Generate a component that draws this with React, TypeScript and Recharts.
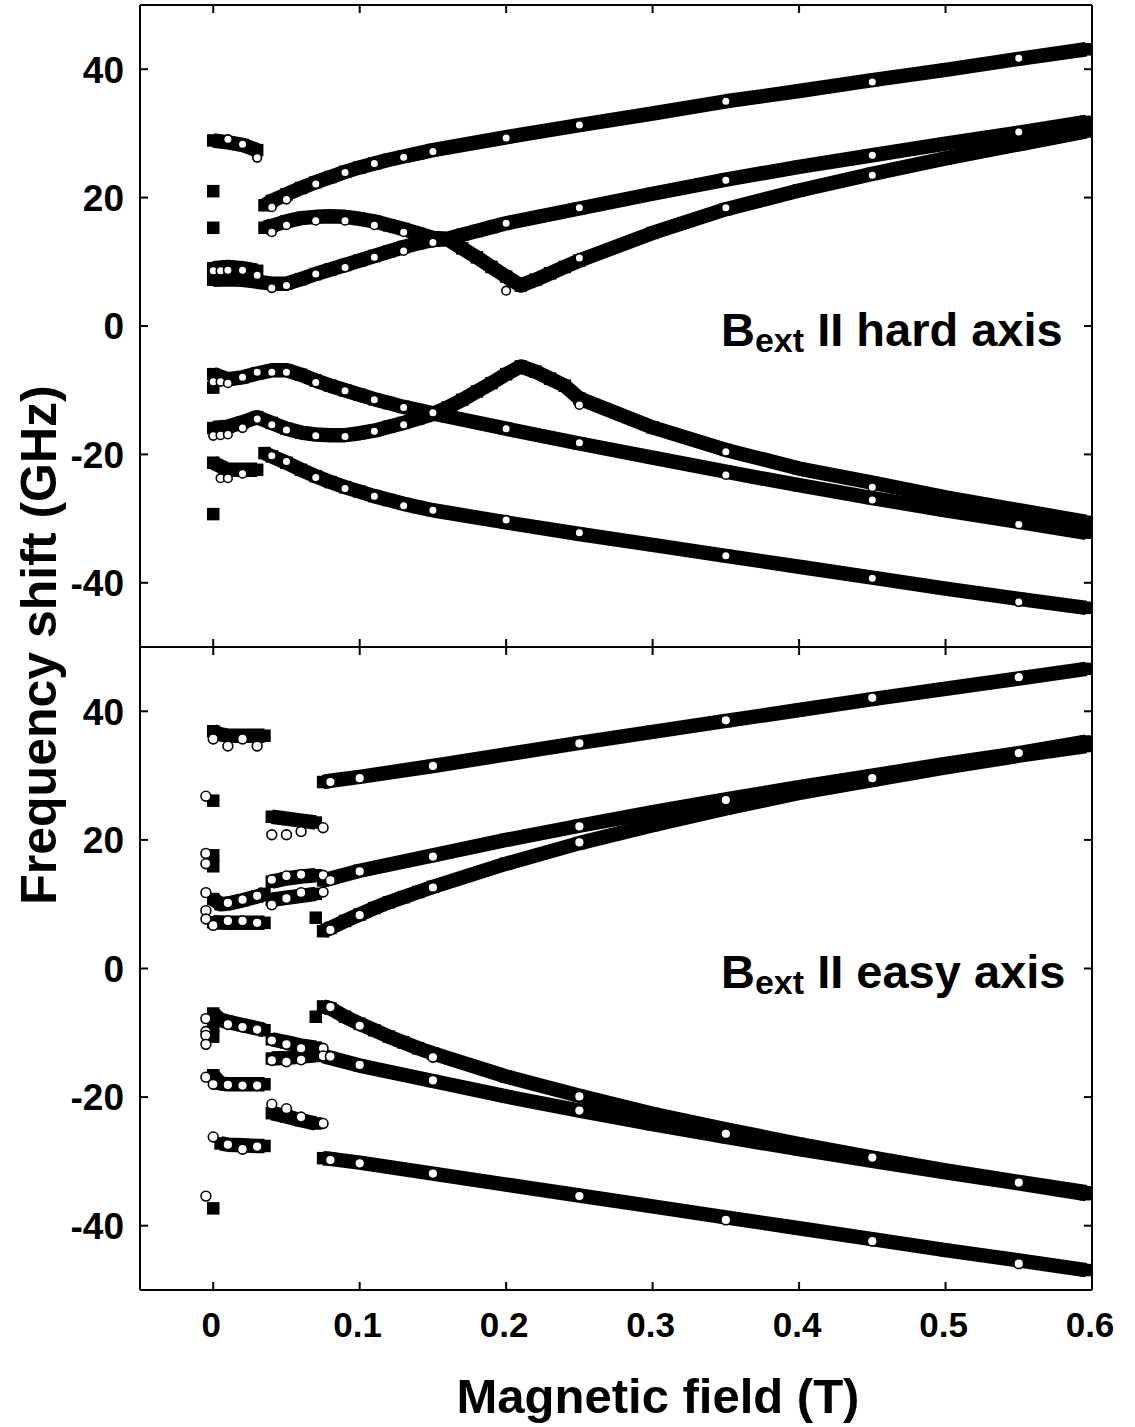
import React from 'react';
import { ComposedChart, Scatter, XAxis, YAxis } from 'recharts';

type Pt = [number, number];

// ---------- axes ----------
const fieldDomain: [number, number] = [-0.05, 0.6];
const fieldTicks = [0, 0.1, 0.2, 0.3, 0.4, 0.5, 0.6];
const fieldTickLabels = ['0', '0.1', '0.2', '0.3', '0.4', '0.5', '0.6'];
const shiftDomain: [number, number] = [-50, 50];
const shiftTicks = [-40, -20, 0, 20, 40];
const shiftTickLabels = ['-40', '-20', '0', '20', '40'];

// ---------- hard axis panel: calculated (filled squares) ----------
const hardCalcA: Pt[] = [[0, 28.9], [0.01, 28.6], [0.02, 28.2], [0.03, 27.4]];
const hardCalcUpper9: Pt[] = [[0, 9.0], [0.01, 9.2], [0.02, 9.0], [0.03, 8.6]];
const hardCalcP1: Pt[] = [[0.035, 18.8], [0.04, 19.5], [0.05, 20.5], [0.06, 21.5], [0.07, 22.4], [0.08, 23.2], [0.09, 24.0], [0.1, 24.7], [0.11, 25.3], [0.12, 25.9], [0.13, 26.4], [0.14, 26.9], [0.15, 27.4], [0.2, 29.4], [0.25, 31.3], [0.3, 33.1], [0.35, 35.0], [0.4, 36.6], [0.45, 38.3], [0.5, 39.9], [0.55, 41.6], [0.596, 43.1]];
const hardCalcP2: Pt[] = [[0.035, 15.3], [0.04, 15.6], [0.05, 16.3], [0.06, 16.8], [0.07, 17.0], [0.08, 17.1], [0.09, 17.0], [0.1, 16.7], [0.11, 16.3], [0.12, 15.7], [0.13, 15.1], [0.14, 14.4], [0.15, 13.7], [0.16, 13.6], [0.17, 14.2], [0.18, 14.8], [0.19, 15.4], [0.2, 16.0], [0.25, 18.3], [0.3, 20.6], [0.35, 22.8], [0.4, 24.8], [0.45, 26.6], [0.5, 28.4], [0.55, 30.1], [0.596, 31.8]];
const hardCalcP3: Pt[] = [[0, 7.2], [0.01, 7.3], [0.02, 7.2], [0.03, 6.9], [0.04, 6.6], [0.05, 6.6], [0.06, 7.3], [0.07, 8.1], [0.08, 8.8], [0.09, 9.5], [0.1, 10.2], [0.11, 10.9], [0.12, 11.6], [0.13, 12.3], [0.14, 12.9], [0.15, 13.4], [0.16, 13.5], [0.17, 12.1], [0.18, 10.7], [0.19, 9.2], [0.2, 7.7], [0.21, 6.3], [0.22, 7.2], [0.23, 8.2], [0.24, 9.2], [0.25, 10.2], [0.3, 14.5], [0.35, 18.2], [0.4, 21.1], [0.45, 23.7], [0.5, 26.1], [0.55, 28.3], [0.596, 30.3]];
const hardCalcN1: Pt[] = [[0, -7.5], [0.01, -8.3], [0.02, -8.0], [0.03, -7.4], [0.04, -6.9], [0.05, -6.9], [0.06, -7.6], [0.07, -8.5], [0.08, -9.3], [0.09, -10.0], [0.1, -10.7], [0.11, -11.4], [0.12, -12.0], [0.13, -12.6], [0.14, -13.1], [0.15, -13.6], [0.16, -14.1], [0.2, -16.0], [0.25, -18.3], [0.3, -20.5], [0.35, -22.7], [0.4, -24.8], [0.45, -26.8], [0.5, -28.7], [0.55, -30.5], [0.596, -32.2]];
const hardCalcN2: Pt[] = [[0, -15.9], [0.01, -15.7], [0.02, -15.0], [0.03, -14.2], [0.04, -15.1], [0.05, -16.0], [0.06, -16.6], [0.07, -16.9], [0.08, -17.0], [0.09, -17.0], [0.1, -16.7], [0.11, -16.3], [0.12, -15.7], [0.13, -15.1], [0.14, -14.4], [0.15, -13.7], [0.16, -12.7], [0.17, -11.5], [0.18, -10.2], [0.19, -8.9], [0.2, -7.5], [0.21, -6.3], [0.22, -7.1], [0.23, -8.2], [0.24, -9.3], [0.25, -11.3], [0.3, -15.8], [0.35, -19.3], [0.4, -22.2], [0.45, -24.4], [0.5, -26.7], [0.55, -28.7], [0.596, -30.5]];
const hardCalcN3: Pt[] = [[0, -21.3], [0.01, -22.4], [0.02, -22.4], [0.03, -22.4]];
const hardCalcN4: Pt[] = [[0.035, -19.8], [0.04, -20.3], [0.05, -21.3], [0.06, -22.4], [0.07, -23.4], [0.08, -24.3], [0.09, -25.1], [0.1, -25.8], [0.11, -26.5], [0.12, -27.1], [0.13, -27.7], [0.14, -28.2], [0.15, -28.7], [0.2, -30.6], [0.25, -32.4], [0.3, -34.1], [0.35, -35.8], [0.4, -37.5], [0.45, -39.2], [0.5, -40.9], [0.55, -42.5], [0.596, -43.9]];
const hardCalcSingles: Pt[] = [[0, 21.0], [0, 15.3], [0, -9.6], [0, -29.3]];

// ---------- hard axis panel: measured (open circles) ----------
const hardExp: Pt[] = [
  [0.01, 29.1], [0.02, 28.3], [0.03, 26.2],
  [0, 8.6], [0.005, 8.6], [0.01, 8.7], [0.02, 8.7], [0.03, 7.9],
  [0.04, 18.5], [0.05, 19.7], [0.07, 22.1], [0.09, 23.9], [0.11, 25.3], [0.13, 26.3], [0.15, 27.2], [0.2, 29.3], [0.25, 31.3], [0.35, 35.0], [0.45, 38.0], [0.55, 41.7],
  [0.04, 14.6], [0.05, 15.7], [0.07, 16.4], [0.09, 16.4], [0.11, 15.7], [0.13, 14.6], [0.15, 13.0], [0.2, 16.0], [0.25, 18.4], [0.35, 22.7], [0.45, 26.6], [0.55, 30.2],
  [0.04, 5.9], [0.05, 6.3], [0.07, 8.1], [0.09, 9.1], [0.11, 10.7], [0.13, 11.7], [0.2, 5.5], [0.25, 10.6], [0.35, 18.4], [0.45, 23.5],
  [0, -8.7], [0.005, -8.7], [0.01, -8.9], [0.02, -8.0], [0.03, -7.2], [0.04, -7.2], [0.05, -7.2], [0.07, -8.8], [0.09, -10.1], [0.11, -11.5], [0.13, -12.7], [0.15, -13.5], [0.2, -16.0], [0.25, -18.2], [0.35, -23.2], [0.45, -27.1], [0.55, -30.9],
  [0.25, -12.3], [0.35, -19.6], [0.45, -25.1],
  [0, -17.1], [0.005, -17.0], [0.01, -16.9], [0.02, -15.9], [0.03, -14.5], [0.04, -15.4], [0.05, -16.2], [0.07, -17.1], [0.09, -17.2], [0.11, -16.4], [0.13, -15.4],
  [0.005, -23.7], [0.01, -23.7], [0.02, -23.0],
  [0.04, -20.2], [0.05, -21.1], [0.07, -23.6], [0.09, -25.3], [0.11, -26.5], [0.13, -28.0], [0.15, -28.7], [0.2, -30.2], [0.25, -32.2], [0.35, -35.8], [0.45, -39.3], [0.55, -43.0],
];

// ---------- easy axis panel: calculated (filled squares) ----------
const easyCalcE1: Pt[] = [[0, 36.9], [0.005, 36.4], [0.01, 36.2], [0.02, 36.2], [0.03, 36.2], [0.035, 36.2]];
const easyCalcE2: Pt[] = [[0.04, 23.6], [0.05, 23.3], [0.06, 23.0], [0.07, 22.7]];
const easyCalcE3: Pt[] = [[0.075, 29.0], [0.08, 29.2], [0.1, 29.8], [0.15, 31.5], [0.2, 33.3], [0.25, 35.1], [0.3, 36.8], [0.35, 38.5], [0.4, 40.2], [0.45, 41.9], [0.5, 43.5], [0.55, 45.1], [0.596, 46.6]];
const easyCalcE4: Pt[] = [[0, 10.8], [0.005, 10.0], [0.01, 10.1], [0.02, 10.6], [0.03, 11.2], [0.035, 11.6]];
const easyCalcE5: Pt[] = [[0.04, 13.5], [0.05, 14.0], [0.06, 14.3], [0.07, 14.5]];
const easyCalcE6: Pt[] = [[0.04, 10.7], [0.05, 11.0], [0.06, 11.3], [0.07, 11.6]];
const easyCalcE7: Pt[] = [[0.075, 13.7], [0.08, 14.0], [0.1, 15.2], [0.15, 17.6], [0.2, 20.0], [0.25, 22.2], [0.3, 24.3], [0.35, 26.3], [0.4, 28.2], [0.45, 30.0], [0.5, 31.8], [0.55, 33.5], [0.596, 35.3]];
const easyCalcE8: Pt[] = [[0.075, 5.8], [0.08, 6.3], [0.09, 7.4], [0.1, 8.4], [0.11, 9.4], [0.12, 10.3], [0.13, 11.1], [0.14, 11.9], [0.15, 12.7], [0.2, 16.3], [0.25, 19.5], [0.3, 22.3], [0.35, 24.9], [0.4, 27.3], [0.45, 29.3], [0.5, 31.3], [0.55, 33.1], [0.596, 34.6]];
const easyCalcE9: Pt[] = [[0, 7.2], [0.01, 7.1], [0.02, 7.1], [0.03, 7.1], [0.035, 7.1]];
const easyCalcF1: Pt[] = [[0, -7.0], [0.005, -8.0], [0.01, -8.3], [0.02, -8.8], [0.03, -9.3], [0.035, -9.6]];
const easyCalcF2: Pt[] = [[0.04, -11.0], [0.05, -11.5], [0.06, -12.0], [0.07, -12.3]];
const easyCalcF3: Pt[] = [[0.04, -14.0], [0.05, -13.9], [0.06, -13.7], [0.07, -13.5]];
const easyCalcF4: Pt[] = [[0.075, -5.9], [0.08, -6.2], [0.09, -7.5], [0.1, -8.6], [0.11, -9.6], [0.12, -10.6], [0.13, -11.5], [0.14, -12.4], [0.15, -13.2], [0.2, -16.8], [0.25, -19.8], [0.3, -22.6], [0.35, -25.0], [0.4, -27.3], [0.45, -29.4], [0.5, -31.4], [0.55, -33.2], [0.596, -34.8]];
const easyCalcF5: Pt[] = [[0.075, -13.6], [0.08, -13.9], [0.1, -15.1], [0.15, -17.5], [0.2, -19.9], [0.25, -22.1], [0.3, -24.2], [0.35, -26.2], [0.4, -28.1], [0.45, -29.9], [0.5, -31.7], [0.55, -33.4], [0.596, -35.1]];
const easyCalcF6: Pt[] = [[0, -16.6], [0.005, -17.9], [0.01, -18.0], [0.02, -18.0], [0.03, -18.0], [0.035, -18.0]];
const easyCalcF7: Pt[] = [[0.04, -22.5], [0.05, -23.0], [0.06, -23.6], [0.07, -24.1]];
const easyCalcF8: Pt[] = [[0.005, -27.2], [0.01, -27.4], [0.02, -27.5], [0.03, -27.6], [0.035, -27.6]];
const easyCalcF9: Pt[] = [[0.075, -29.5], [0.08, -29.6], [0.1, -30.2], [0.15, -31.9], [0.2, -33.6], [0.25, -35.3], [0.3, -37.0], [0.35, -38.7], [0.4, -40.4], [0.45, -42.1], [0.5, -43.8], [0.55, -45.4], [0.596, -46.9]];
const easyCalcSingles: Pt[] = [[0, 26.1], [0, 17.6], [0, 15.9], [0.07, 7.9], [0, -9.0], [0, -10.6], [0.07, -7.5], [0, -37.3]];

// ---------- easy axis panel: measured (open circles) ----------
const easyExp: Pt[] = [
  [-0.005, 26.8], [-0.005, 17.9], [-0.005, 16.3], [-0.005, 11.8], [-0.005, 9.0], [-0.005, 7.7], [0, 35.7], [0, 6.7],
  [0.01, 34.6], [0.02, 35.7], [0.03, 34.6],
  [0.01, 10.2], [0.02, 10.7], [0.03, 11.3],
  [0.01, 7.4], [0.02, 7.4], [0.03, 7.1],
  [0.04, 20.8], [0.05, 20.8], [0.06, 21.3], [0.075, 21.9],
  [0.04, 13.8], [0.05, 14.4], [0.06, 14.6], [0.075, 14.5],
  [0.04, 9.9], [0.05, 10.9], [0.06, 11.8], [0.075, 11.9],
  [0.08, 29.0], [0.1, 29.6], [0.15, 31.5], [0.25, 35.0], [0.35, 38.6], [0.45, 42.1], [0.55, 45.3],
  [0.08, 13.7], [0.1, 15.1], [0.15, 17.4], [0.25, 22.1], [0.35, 26.2], [0.45, 29.6], [0.55, 33.5],
  [0.08, 6.0], [0.1, 8.3], [0.15, 12.6], [0.25, 19.6],
  [-0.005, -7.8], [-0.005, -9.8], [-0.005, -10.4], [-0.005, -11.8], [-0.005, -16.9], [-0.005, -35.4], [0, -18.0], [0, -26.2],
  [0.01, -8.7], [0.02, -9.1], [0.03, -9.5],
  [0.01, -18.1], [0.02, -18.2], [0.03, -18.2],
  [0.01, -27.4], [0.02, -28.1], [0.03, -27.7],
  [0.04, -11.2], [0.05, -11.8], [0.06, -12.4], [0.075, -12.4],
  [0.04, -14.3], [0.05, -14.5], [0.06, -14.2], [0.075, -13.6],
  [0.04, -21.1], [0.05, -21.8], [0.06, -23.1], [0.075, -24.1],
  [0.08, -6.0], [0.1, -8.9], [0.15, -13.8], [0.25, -19.9], [0.35, -25.7], [0.45, -29.4], [0.55, -33.3],
  [0.08, -13.7], [0.1, -15.0], [0.15, -17.4], [0.25, -22.1],
  [0.08, -29.8], [0.1, -30.3], [0.15, -31.9], [0.25, -35.4], [0.35, -39.1], [0.45, -42.4], [0.55, -45.9],
];

const hardBranches = [hardCalcA, hardCalcUpper9, hardCalcP1, hardCalcP2, hardCalcP3, hardCalcN1, hardCalcN2, hardCalcN3, hardCalcN4];
const easyBranches = [easyCalcE1, easyCalcE2, easyCalcE3, easyCalcE4, easyCalcE5, easyCalcE6, easyCalcE7, easyCalcE8, easyCalcE9, easyCalcF1, easyCalcF2, easyCalcF3, easyCalcF4, easyCalcF5, easyCalcF6, easyCalcF7, easyCalcF8, easyCalcF9];

// ---------- layout ----------
const W = 1135;
const PLOT_L = 140;
const PLOT_R = 1092;
const FONT = "'Liberation Sans', Arial, Helvetica, sans-serif";
const TICK_LEN = 8;
const Y_TICK_FONT = 37;
const X_TICK_FONT = 35;
const SQ = 12.5;
const BAND = 14.5;

const rows = (pts: Pt[]) => pts.map(([x, y]) => ({ x, y }));

const SquareShape = (props: any) => {
  const { cx, cy } = props;
  if (cx == null || cy == null) return null;
  return <rect x={cx - SQ / 2} y={cy - SQ / 2} width={SQ} height={SQ} fill="#000" />;
};

const makeCircle = (r: number, sw: number) => (props: any) => {
  const { cx, cy } = props;
  if (cx == null || cy == null) return null;
  return <circle cx={cx} cy={cy} r={r} fill="#fff" stroke="#000" strokeWidth={sw} />;
};

interface PanelProps {
  branches: Pt[][];
  singles: Pt[];
  exp: Pt[];
  height: number;
  topH: number;
  bottomH: number;
  showXLabels: boolean;
  circleR: number;
}

const Panel = ({ branches, singles, exp, height, topH, bottomH, showXLabels, circleR }: PanelProps) => {
  const plotTop = topH;
  const plotBottom = height - bottomH;
  const Circle = makeCircle(circleR, 1.6);

  const LeftTick = (p: any) => {
    const y = p.y;
    const i = shiftTicks.indexOf(p.payload.value);
    return (
      <g>
        <line x1={PLOT_L} x2={PLOT_L + TICK_LEN} y1={y} y2={y} stroke="#000" strokeWidth={2} />
        <text x={124} y={y} dy={Y_TICK_FONT * 0.36} textAnchor="end" fontFamily={FONT} fontWeight="bold" fontSize={Y_TICK_FONT} fill="#000">
          {shiftTickLabels[i]}
        </text>
      </g>
    );
  };
  const RightTick = (p: any) => (
    <line x1={PLOT_R - TICK_LEN} x2={PLOT_R} y1={p.y} y2={p.y} stroke="#000" strokeWidth={2} />
  );
  const TopTick = (p: any) => (
    <line x1={p.x} x2={p.x} y1={plotTop} y2={plotTop + TICK_LEN} stroke="#000" strokeWidth={2} />
  );
  const BottomTick = (p: any) => {
    const i = fieldTicks.indexOf(p.payload.value);
    return (
      <g>
        <line x1={p.x} x2={p.x} y1={plotBottom} y2={plotBottom - TICK_LEN} stroke="#000" strokeWidth={2} />
        {showXLabels ? (
          <text x={p.x - 2} y={plotBottom + 47} textAnchor="middle" fontFamily={FONT} fontWeight="bold" fontSize={X_TICK_FONT} fill="#000">
            {fieldTickLabels[i]}
          </text>
        ) : null}
      </g>
    );
  };

  return (
    <ComposedChart width={W} height={height} margin={{ top: 0, right: 0, bottom: 0, left: 0 }}>
      <XAxis xAxisId="b" dataKey="x" type="number" orientation="bottom" domain={fieldDomain} ticks={fieldTicks} interval={0}
        allowDataOverflow height={bottomH} tickLine={false} axisLine={{ stroke: '#000', strokeWidth: 2 }} tick={<BottomTick />} />
      <XAxis xAxisId="t" dataKey="x" type="number" orientation="top" domain={fieldDomain} ticks={fieldTicks} interval={0}
        allowDataOverflow height={topH} tickLine={false} axisLine={{ stroke: '#000', strokeWidth: 2 }} tick={<TopTick />} />
      <YAxis yAxisId="l" dataKey="y" type="number" orientation="left" domain={shiftDomain} ticks={shiftTicks} interval={0}
        allowDataOverflow width={PLOT_L} tickLine={false} axisLine={{ stroke: '#000', strokeWidth: 2 }} tick={<LeftTick />} />
      <YAxis yAxisId="r" dataKey="y" type="number" orientation="right" domain={shiftDomain} ticks={shiftTicks} interval={0}
        allowDataOverflow width={W - PLOT_R} tickLine={false} axisLine={{ stroke: '#000', strokeWidth: 2 }} tick={<RightTick />} />
      {branches.map((b, k) => (
        <Scatter key={'b' + k} xAxisId="b" yAxisId="l" data={rows(b)} fill="#000" shape={<SquareShape />}
          line={{ stroke: '#000', strokeWidth: BAND, strokeLinejoin: 'round' }} lineType="joint" isAnimationActive={false} />
      ))}
      <Scatter xAxisId="b" yAxisId="l" data={rows(singles)} fill="#000" shape={<SquareShape />} isAnimationActive={false} />
      <Scatter xAxisId="b" yAxisId="l" data={rows(exp)} fill="#fff" shape={<Circle />} isAnimationActive={false} />
    </ComposedChart>
  );
};

export default function App() {
  const txt = { fontFamily: FONT, fontWeight: 'bold' as const, fill: '#000' };
  return (
    <div style={{ position: 'absolute', left: 0, top: 0, width: W, height: 1427, background: '#fff' }}>
      <div style={{ position: 'absolute', left: 0, top: 0 }}>
        <Panel branches={hardBranches} singles={hardCalcSingles} exp={hardExp} height={652} topH={5} bottomH={5} showXLabels={false} circleR={4.3} />
      </div>
      <div style={{ position: 'absolute', left: 0, top: 642 }}>
        <Panel branches={easyBranches} singles={easyCalcSingles} exp={easyExp} height={785} topH={5} bottomH={137} showXLabels={true} circleR={4.9} />
      </div>
      <svg width={W} height={1427} style={{ position: 'absolute', left: 0, top: 0, pointerEvents: 'none' }}>
        <text {...txt} fontSize={47} x={721} y={346}>
          B<tspan fontSize={34} dy={6}>ext</tspan><tspan fontSize={47} dy={-6}> II hard axis</tspan>
        </text>
        <text {...txt} fontSize={47} x={721} y={988}>
          B<tspan fontSize={34} dy={6}>ext</tspan><tspan fontSize={47} dy={-6}> II easy axis</tspan>
        </text>
        <text {...txt} fontSize={49} x={658} y={1413} textAnchor="middle">Magnetic field (T)</text>
        <text {...txt} fontSize={50} textAnchor="middle" transform="translate(56,645) rotate(-90)">Frequency shift (GHz)</text>
      </svg>
    </div>
  );
}
